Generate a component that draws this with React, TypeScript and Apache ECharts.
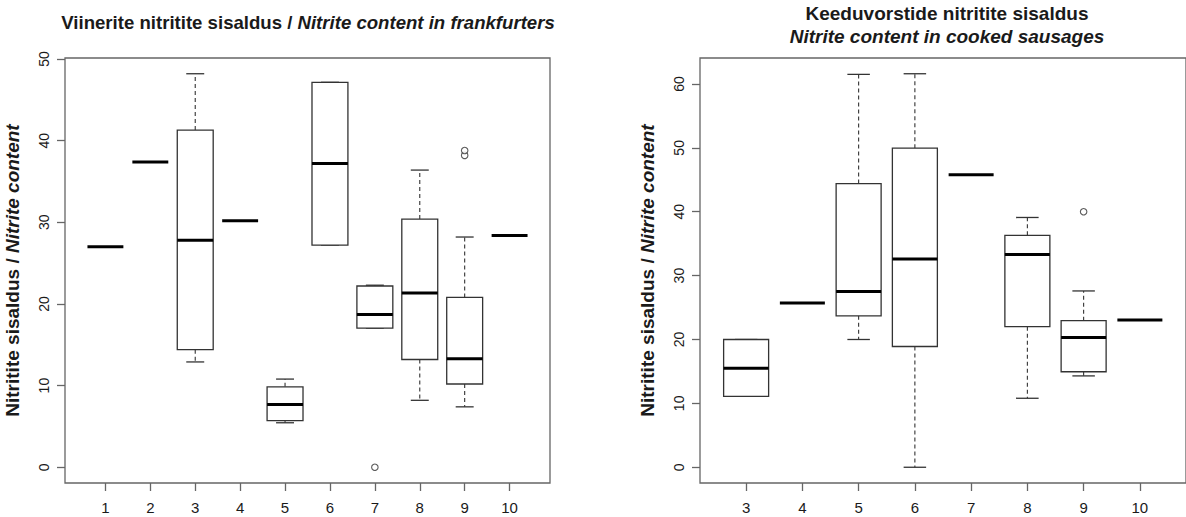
import React, { useEffect, useRef } from "react";
import * as echarts from "echarts";

// ---------- Data: left chart (frankfurters) ----------
const leftCategories = ["1", "2", "3", "4", "5", "6", "7", "8", "9", "10"];
const leftLow = [27.0, 37.4, 12.9, 30.2, 5.45, 27.2, 17.05, 8.2, 7.4, 28.4];
const leftQ1 = [27.0, 37.4, 14.4, 30.2, 5.7, 27.2, 17.05, 13.2, 10.2, 28.4];
const leftMedian = [27.0, 37.4, 27.8, 30.2, 7.7, 37.2, 18.7, 21.35, 13.3, 28.4];
const leftQ3 = [27.0, 37.4, 41.3, 30.2, 9.85, 47.15, 22.2, 30.4, 20.8, 28.4];
const leftHigh = [27.0, 37.4, 48.2, 30.2, 10.8, 47.15, 22.3, 36.4, 28.2, 28.4];
const leftOutlierCategory = ["7", "9", "9"];
const leftOutlierValue = [0, 38.2, 38.8];
const leftYTicks = [0, 10, 20, 30, 40, 50];

// ---------- Data: right chart (cooked sausages) ----------
const rightCategories = ["3", "4", "5", "6", "7", "8", "9", "10"];
const rightLow = [11.1, 25.7, 20.0, 0, 45.8, 10.8, 14.3, 23.05];
const rightQ1 = [11.1, 25.7, 23.7, 18.9, 45.8, 22.0, 14.95, 23.05];
const rightMedian = [15.5, 25.7, 27.5, 32.6, 45.8, 33.3, 20.3, 23.05];
const rightQ3 = [20.0, 25.7, 44.4, 49.95, 45.8, 36.3, 22.95, 23.05];
const rightHigh = [20.0, 25.7, 61.5, 61.6, 45.8, 39.1, 27.6, 23.05];
const rightOutlierCategory = ["9"];
const rightOutlierValue = [40.0];
const rightYTicks = [0, 10, 20, 30, 40, 50, 60];

const FONT = "'Liberation Sans', Arial, Helvetica, sans-serif";
const BOX_COLOR = "#333";
const FRAME_COLOR = "#666";
const TEXT_COLOR = "#1a1a1a";

function buildBoxData(
  cats: string[], lo: number[], q1: number[], med: number[], q3: number[], hi: number[]
) {
  return cats.map((_, i) => [i + 1, lo[i], q1[i], med[i], q3[i], hi[i]]);
}

function extendRange(values: number[]) {
  const mn = Math.min(...values);
  const mx = Math.max(...values);
  const d = (mx - mn) * 0.04;
  return [mn - d, mx + d];
}

function renderBox(params: any, api: any) {
  const x = api.value(0);
  const lo = api.value(1);
  const q1 = api.value(2);
  const med = api.value(3);
  const q3 = api.value(4);
  const hi = api.value(5);
  const halfW = api.size([0.4, 0])[0];
  const stapleHalf = halfW / 2;
  const [cx, yLo] = api.coord([x, lo]);
  const yQ1 = api.coord([x, q1])[1];
  const yMed = api.coord([x, med])[1];
  const yQ3 = api.coord([x, q3])[1];
  const yHi = api.coord([x, hi])[1];
  const thin = { stroke: BOX_COLOR, lineWidth: 1.3 };
  const dashed = { stroke: BOX_COLOR, lineWidth: 1.1, lineDash: [4, 3] };
  const children: any[] = [];
  const single = lo === hi;
  if (!single) {
    if (hi > q3) {
      children.push({ type: "line", shape: { x1: cx, y1: yQ3, x2: cx, y2: yHi }, style: dashed });
    }
    children.push({ type: "line", shape: { x1: cx - stapleHalf, y1: yHi, x2: cx + stapleHalf, y2: yHi }, style: thin });
    if (lo < q1) {
      children.push({ type: "line", shape: { x1: cx, y1: yQ1, x2: cx, y2: yLo }, style: dashed });
    }
    children.push({ type: "line", shape: { x1: cx - stapleHalf, y1: yLo, x2: cx + stapleHalf, y2: yLo }, style: thin });
    children.push({
      type: "rect",
      shape: { x: cx - halfW, y: yQ3, width: 2 * halfW, height: yQ1 - yQ3 },
      style: { fill: "#fff", stroke: BOX_COLOR, lineWidth: 1.3 },
    });
  }
  children.push({
    type: "line",
    shape: { x1: cx - halfW, y1: yMed, x2: cx + halfW, y2: yMed },
    style: { stroke: "#000", lineWidth: 3 },
  });
  return { type: "group", children };
}

function makeXAxis(gridIndex: number, cats: string[]) {
  const ticks = cats.map((_, i) => i + 1);
  const ext = cats.length * 0.04;
  return {
    gridIndex,
    type: "value",
    min: 0.5 - ext,
    max: cats.length + 0.5 + ext,
    splitLine: { show: false },
    axisLine: { show: false, onZero: false },
    axisTick: { show: true, length: 8, customValues: ticks, lineStyle: { color: FRAME_COLOR, width: 1.3 } },
    axisLabel: {
      customValues: ticks,
      formatter: (v: number) => cats[Math.round(v) - 1] ?? "",
      margin: 17,
      fontSize: 15,
      color: TEXT_COLOR,
      fontFamily: FONT,
    },
  };
}

function makeYAxis(gridIndex: number, ticks: number[], range: number[]) {
  return {
    gridIndex,
    type: "value",
    min: range[0],
    max: range[1],
    splitLine: { show: false },
    axisLine: { show: false, onZero: false },
    axisTick: { show: true, length: 8, customValues: ticks, lineStyle: { color: FRAME_COLOR, width: 1.3 } },
    axisLabel: {
      customValues: ticks,
      rotate: 90,
      margin: 14,
      fontSize: 14,
      color: TEXT_COLOR,
      fontFamily: FONT,
    },
    name: "{a|Nitritite sisaldus / }{b|Nitrite content}",
    nameLocation: "middle",
    nameRotate: 90,
    nameGap: 43,
    nameTextStyle: {
      rich: {
        a: { fontWeight: "bold", fontSize: 19, fontFamily: FONT, color: TEXT_COLOR },
        b: { fontWeight: "bold", fontStyle: "italic", fontSize: 19, fontFamily: FONT, color: TEXT_COLOR },
      },
    },
  };
}

export default function App() {
  const ref = useRef<HTMLDivElement>(null);
  useEffect(() => {
    if (!ref.current) return;
    const chart = echarts.init(ref.current, undefined, { renderer: "svg" });
    const leftRange = extendRange([...leftLow, ...leftHigh, ...leftOutlierValue]);
    const rightRange = extendRange([...rightLow, ...rightHigh, ...rightOutlierValue]);
    const titleRich = (size: number) => ({
      a: { fontWeight: "bold", fontSize: size, fontFamily: FONT, color: TEXT_COLOR, lineHeight: 23 },
      b: { fontWeight: "bold", fontStyle: "italic", fontSize: size, fontFamily: FONT, color: TEXT_COLOR, lineHeight: 23 },
    });
    chart.setOption({
      animation: false,
      backgroundColor: "#fff",
      title: [
        {
          text: "{a|Viinerite nitritite sisaldus / }{b|Nitrite content in frankfurters}",
          left: 303,
          top: 6,
          textAlign: "center",
          textStyle: { rich: titleRich(18.6) },
        },
        {
          text: "{a|Keeduvorstide nitritite sisaldus}\n{b|Nitrite content in cooked sausages}",
          left: 942,
          top: -3,
          textAlign: "center",
          textStyle: { rich: titleRich(19) },
        },
      ],
      grid: [
        { left: 65, top: 58, width: 485, height: 425, show: true, borderColor: FRAME_COLOR, borderWidth: 1.3, backgroundColor: "transparent" },
        { left: 700, top: 58, width: 491, height: 425, show: true, borderColor: FRAME_COLOR, borderWidth: 1.3, backgroundColor: "transparent" },
      ],
      xAxis: [makeXAxis(0, leftCategories), makeXAxis(1, rightCategories)],
      yAxis: [makeYAxis(0, leftYTicks, leftRange), makeYAxis(1, rightYTicks, rightRange)],
      series: [
        {
          type: "custom",
          xAxisIndex: 0,
          yAxisIndex: 0,
          renderItem: renderBox,
          encode: { x: 0, y: [1, 2, 3, 4, 5] },
          data: buildBoxData(leftCategories, leftLow, leftQ1, leftMedian, leftQ3, leftHigh),
        },
        {
          type: "scatter",
          xAxisIndex: 0,
          yAxisIndex: 0,
          symbol: "circle",
          symbolSize: 6.5,
          itemStyle: { color: "#fff", borderColor: BOX_COLOR, borderWidth: 1.1 },
          data: leftOutlierCategory.map((c, i) => [leftCategories.indexOf(c) + 1, leftOutlierValue[i]]),
        },
        {
          type: "custom",
          xAxisIndex: 1,
          yAxisIndex: 1,
          renderItem: renderBox,
          encode: { x: 0, y: [1, 2, 3, 4, 5] },
          data: buildBoxData(rightCategories, rightLow, rightQ1, rightMedian, rightQ3, rightHigh),
        },
        {
          type: "scatter",
          xAxisIndex: 1,
          yAxisIndex: 1,
          symbol: "circle",
          symbolSize: 6.5,
          itemStyle: { color: "#fff", borderColor: BOX_COLOR, borderWidth: 1.1 },
          data: rightOutlierCategory.map((c, i) => [rightCategories.indexOf(c) + 1, rightOutlierValue[i]]),
        },
      ],
    });
    return () => chart.dispose();
  }, []);
  return (
    <div
      ref={ref}
      style={{ position: "fixed", left: 0, top: 0, width: 1186, height: 517, background: "#fff" }}
    />
  );
}
